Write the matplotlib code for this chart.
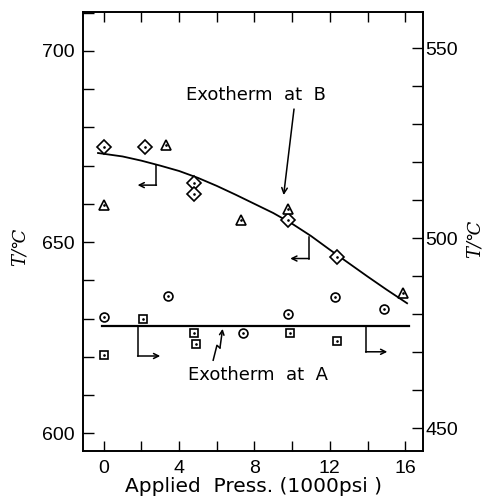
import numpy as np
import matplotlib
matplotlib.use("Agg")
import matplotlib.pyplot as plt

# values (left axis, T / deg C)
press_diamond = [0.0, 2.2, 4.8, 4.8, 9.8, 12.4]
temp_diamond = [675.0, 674.8, 665.4, 662.6, 655.8, 646.2]

press_triangle = [0.0, 3.3, 7.3, 9.8, 15.9]
temp_triangle = [659.7, 675.4, 655.8, 658.6, 636.8]

press_circle = [0.0, 3.4, 7.4, 9.8, 12.3, 14.9]
temp_circle = [630.3, 635.9, 626.1, 631.1, 635.7, 632.6]

press_square = [0.0, 2.1, 4.8, 4.9, 9.9, 12.4]
temp_square = [620.4, 629.8, 626.1, 623.3, 626.1, 624.1]

# smooth trend through exotherm B
curve_b_x = [-0.3, 1, 2, 3, 4, 5, 6, 7, 8, 9, 10, 11, 12, 13, 14, 15, 16.1]
curve_b_y = [673.3, 672.4, 671.3, 670.0, 668.6, 666.8, 664.7, 662.4, 660.0,
             657.6, 654.8, 651.6, 648.0, 644.5, 641.0, 637.6, 634.0]

# flat trend for exotherm A
line_a_x = [-0.1, 16.2]
line_a_y = [628.0, 628.0]

xticks_major = [0, 4, 8, 12, 16]
left_ticks = [600, 650, 700]
right_ticks = [450, 500, 550]

plt.rcParams['font.family'] = ['Liberation Sans', 'DejaVu Sans']

fig = plt.figure(figsize=(4.88, 4.98), dpi=100)
ax = fig.add_axes([0.170, 0.094, 0.697, 0.882])
ax2 = ax.twinx()

ax.set_xlim(-1.1, 16.95)
ax.set_ylim(595.3, 710.2)
ax2.set_ylim(443.9, 559.5)

lw = 1.2
ax.plot(curve_b_x, curve_b_y, color='black', lw=1.3)
ax.plot(line_a_x, line_a_y, color='black', lw=1.6)

mk = dict(ls='none', mfc='white', mec='black', mew=1.2)
ax.plot(press_diamond, temp_diamond, marker='D', ms=7.2, **mk)
ax.plot(press_triangle, temp_triangle, marker='^', ms=7, **mk)
ax.plot(press_circle, temp_circle, marker='o', ms=6.4, **mk)
ax.plot(press_square, temp_square, marker='s', ms=6.4, **mk)
for xs, ys in [(press_diamond, temp_diamond), (press_triangle, temp_triangle),
               (press_circle, temp_circle), (press_square, temp_square)]:
    ax.plot(xs, ys, ls='none', marker='.', ms=1.8, color='black')

# axis-indicator arrows: (x, y_start, y_corner, x_end)
pointers = [(2.8, 670.2, 664.9, 1.8), (10.9, 651.3, 645.7, 9.9),
            (1.8, 628.0, 620.2, 3.0), (13.9, 628.0, 621.3, 15.05)]
for px, y0, y1, xe in pointers:
    ax.plot([px, px], [y0, y1], color='black', lw=1.1)
    ax.annotate('', xy=(xe, y1), xytext=(px, y1),
                arrowprops=dict(arrowstyle='->', lw=1.1, color='black',
                                shrinkA=0, shrinkB=0, mutation_scale=9))

# labels
txt_font = ['DejaVu Sans']
ax.text(4.35, 688.5, 'Exotherm  at  B', fontsize=13, family=txt_font, va='center')
ax.annotate('', xy=(9.55, 662.3), xytext=(10.1, 684.8),
            arrowprops=dict(arrowstyle='->', lw=1.1, color='black',
                            shrinkA=0, shrinkB=0, mutation_scale=10))
ax.text(4.5, 615.2, 'Exotherm  at  A', fontsize=13, family=txt_font, va='center')
zig_x = [5.81, 6.01, 6.17]
zig_y = [619.1, 623.0, 622.3]
ax.plot(zig_x, zig_y, color='black', lw=1.1)
ax.annotate('', xy=(6.31, 627.3), xytext=(6.17, 622.3),
            arrowprops=dict(arrowstyle='->', lw=1.1, color='black',
                            shrinkA=0, shrinkB=0, mutation_scale=8))

ax.set_xticks(xticks_major)
ax.set_xticks(np.arange(0, 17, 2), minor=True)
ax.set_yticks(left_ticks)
ax.set_yticks(np.arange(600, 711, 10), minor=True)
ax2.set_yticks(right_ticks)
ax2.set_yticks(np.arange(450, 560, 10), minor=True)

ax.tick_params(axis='x', which='both', direction='in', length=7, width=1,
               top=True, labelsize=14, pad=6)
ax.tick_params(axis='y', which='both', direction='in', length=8, width=1,
               labelsize=14, pad=6)
ax2.tick_params(axis='y', which='both', direction='in', length=8, width=1,
                labelsize=14, pad=1.5)

for a in (ax, ax2):
    for s in a.spines.values():
        s.set_linewidth(lw)

ax.set_xlabel('Applied  Press. (1000psi )', fontsize=14.5, family='DejaVu Sans',
              labelpad=0)
fig.text(0.04, 0.505, 'T/℃', rotation=90, fontsize=13, family='DejaVu Serif',
         style='italic', ha='center', va='center')
fig.text(0.972, 0.52, 'T/℃', rotation=90, fontsize=13, family='DejaVu Serif',
         style='italic', ha='center', va='center')

fig.savefig('out.png', dpi=100)
